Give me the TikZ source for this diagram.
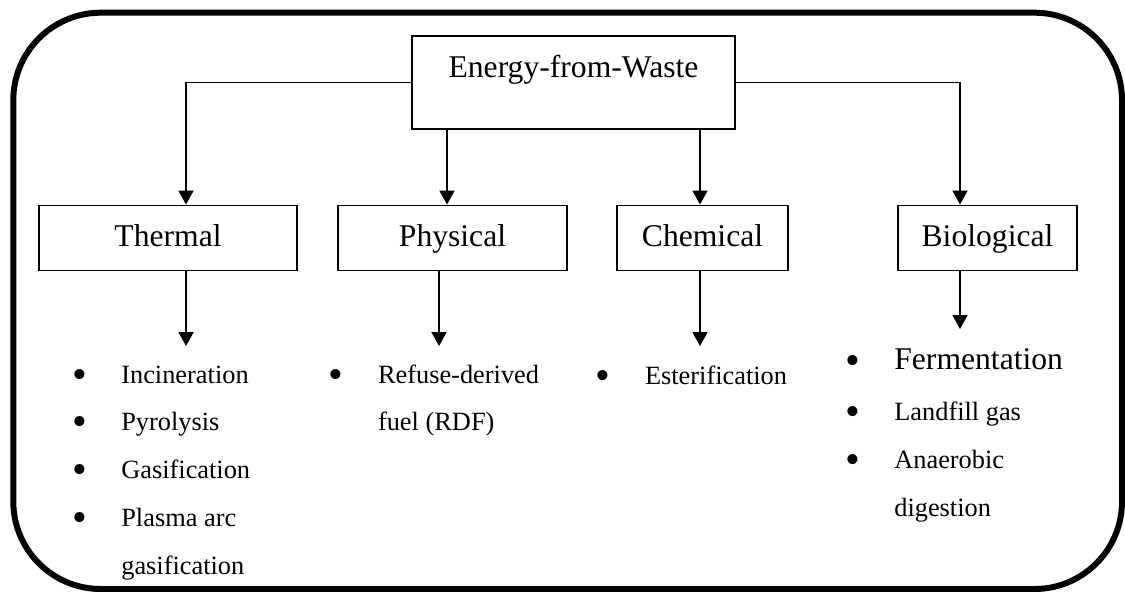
\documentclass[tikz,border=0pt]{standalone}
\usepackage{fontspec}
\setmainfont{Liberation Serif}
\usepackage{tikz}
\usetikzlibrary{shapes, arrows, arrows.meta, calc}
\tikzstyle{root} = [rectangle, draw, fill=white, line width=1.1pt, inner sep=0pt,
    text width=6.46cm, align=center, text height=0.83cm, text depth=1.04cm,
    font=\fontsize{18}{21.6}\selectfont]
\tikzstyle{component} = [rectangle, draw, fill=white, line width=1.1pt, inner sep=0pt,
    text height=0.826cm, text depth=0.474cm, font=\fontsize{18}{21.6}\selectfont]
\tikzstyle{items} = [inner sep=0pt, anchor=base west, font=\fontsize{15}{27.2}\selectfont]
\tikzstyle{line} = [draw, line width=1.1pt, -{Triangle[length=2.8mm, width=3mm]}]
\tikzstyle{frame} = [draw, line width=3.4pt, rounded corners=1.75cm]
\newcommand{\bul}{\makebox[9.07pt]{\raisebox{-2.9pt}{\fontsize{24}{24}\selectfont\textbullet}}}

\begin{document}
\begin{tikzpicture}
    \useasboundingbox (0,0) rectangle (22.5,-11.84);
    \path[frame] (0.266,-0.254) rectangle (22.44,-11.78);
    % Nodes
    \node [root] (efw) at (11.47,-1.65) {Energy-from-Waste};
    \node [component, minimum width=5.16cm] (thermal) at (3.36,-4.76) {Thermal};
    \node [component, minimum width=4.58cm] (phys) at (9.05,-4.76) {Physical};
    \node [component, minimum width=3.42cm] (chem) at (14.05,-4.76) {Chemical};
    \node [component, minimum width=3.58cm] (bio) at (19.75,-4.76) {Biological};
    \coordinate (thermalend) at (3.72,-6.92);
    \coordinate (physend) at (8.78,-6.92);
    \coordinate (chemend) at (14.00,-6.92);
    \coordinate (bioend) at (19.20,-6.58);
    \node [items] (thermallist) at (1.44,-7.66) {\begin{tabular}[t]{@{}l@{\hspace{18.8pt}}l@{}}
        \bul & Incineration\\
        \bul & Pyrolysis\\
        \bul & Gasification\\
        \bul & Plasma arc\\
             & gasification
    \end{tabular}};
    \node [items] (physlist) at (6.56,-7.66) {\begin{tabular}[t]{@{}l@{\hspace{19.2pt}}l@{}}
        \bul & Refuse-derived\\
             & fuel (RDF)
    \end{tabular}};
    \node [items] (chemlist) at (11.90,-7.68) {\begin{tabular}[t]{@{}l@{\hspace{19.2pt}}l@{}}
        \bul & Esterification
    \end{tabular}};
    \node [items] (biolist) at (16.90,-7.38) {\begin{tabular}[t]{@{}l@{\hspace{18.8pt}}l@{}}
        \bul & {\fontsize{18}{21.6}\selectfont Fermentation}\\[2.3pt]
        \bul & Landfill gas\\
        \bul & Anaerobic\\
             & digestion
    \end{tabular}};
    % Edges
    \path[line] (efw.west) -| (thermal.north -| thermalend);
    \path[line] (efw.south -| 8.94,0) -- (phys.north -| 8.94,0);
    \path[line] (efw.south -| chemend) -- (chem.north -| chemend);
    \path[line] (efw.east) -| (bio.north -| bioend);
    \path[line] (thermal.south -| thermalend) -- (thermalend);
    \path[line] (phys.south -| physend) -- (physend);
    \path[line] (chem.south -| chemend) -- (chemend);
    \path[line] (bio.south -| bioend) -- (bioend);
\end{tikzpicture}
\end{document}
